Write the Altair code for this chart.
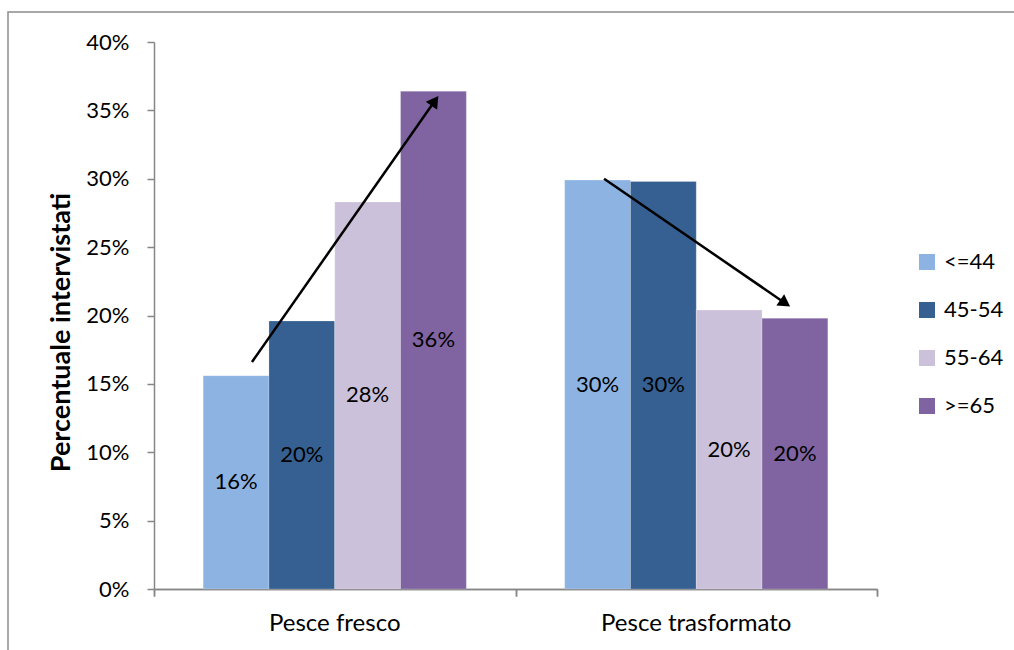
import altair as alt
import pandas as pd

# ---- data ----
cats = ["Pesce fresco", "Pesce trasformato"]
ages = ["<=44", "45-54", "55-64", ">=65"]
fresco = [0.156, 0.196, 0.283, 0.364]
trasformato = [0.299, 0.298, 0.204, 0.198]
colors = ["#8DB3E2", "#366092", "#CCC1DA", "#8064A2"]
y_ticks = [0, 0.05, 0.10, 0.15, 0.20, 0.25, 0.30, 0.35, 0.40]

# arrows (x in group units 0..2, y in share)
arrow_x0 = [0.271, 1.245]
arrow_y0 = [0.166, 0.300]
arrow_x1 = [0.777, 1.746]
arrow_y1 = [0.357, 0.209]
arrow_angle = [35, 124.6]

FONT = "Lato"
GRAY = "#868686"
YTITLE = "Percentuale intervistati"

rows = []
for c, vals in zip(cats, [fresco, trasformato]):
    for a, v in zip(ages, vals):
        rows.append({"cat": c, "age": a, "value": v})
df = pd.DataFrame(rows)

arrows = pd.DataFrame({"x0": arrow_x0, "y0": arrow_y0, "x1": arrow_x1,
                       "y1": arrow_y1, "ang": arrow_angle})

yscale = alt.Scale(domain=[0, 0.4], nice=False)
xscale = alt.Scale(paddingInner=0.272, paddingOuter=0.136)

x_enc = alt.X("cat:N", sort=cats, scale=xscale, title=None,
              axis=alt.Axis(ticks=False, domain=False, labelAngle=0, labelLimit=500,
                            labelFont=FONT, labelFontSize=24, labelColor="#000",
                            labelPadding=22, labelBaseline="top"))
xoff = alt.XOffset("age:N", sort=ages)

bars = alt.Chart(df).mark_bar(stroke="#ffffff", strokeOpacity=0.35, strokeWidth=0.6).encode(
    x=x_enc,
    xOffset=xoff,
    y=alt.Y("value:Q", scale=yscale, title=YTITLE,
            axis=alt.Axis(values=y_ticks, format=".0%", grid=False,
                          tickSize=7, tickColor=GRAY, tickWidth=1.5,
                          domainColor=GRAY, domainWidth=1.5,
                          labelFont=FONT, labelFontSize=22, labelColor="#000",
                          labelPadding=18,
                          titleFont=FONT, titleFontSize=27, titleFontWeight="bold",
                          titleColor="#000", titleAngle=270, titleX=-93, titleY=290,
                          titleAlign="center", titleBaseline="middle")),
    color=alt.Color("age:N", sort=ages,
                    scale=alt.Scale(domain=ages, range=colors),
                    legend=alt.Legend(title=None, orient="none", legendX=762, legendY=209,
                                      symbolType="square", symbolSize=256,
                                      symbolStrokeWidth=0,
                                      labelFont=FONT, labelFontSize=22, labelColor="#000",
                                      labelOffset=6, rowPadding=26)),
)

labels = alt.Chart(df).transform_calculate(mid="datum.value / 2").mark_text(
    font=FONT, fontSize=22, color="#000", baseline="middle"
).encode(
    x=alt.X("cat:N", sort=cats, scale=xscale, title=None),
    xOffset=xoff,
    y=alt.Y("mid:Q", scale=yscale, title=YTITLE),
    text=alt.Text("value:Q", format=".0%"),
)

band = alt.layer(bars, labels)

qx = alt.Scale(domain=[0, 2], nice=False, zero=False)
qaxis = alt.Axis(orient="bottom", values=[0, 1, 2], labels=False, grid=False,
                 tickSize=7, tickColor=GRAY, tickWidth=1.5,
                 domainColor=GRAY, domainWidth=1.5, title=None)
arrow_lines = alt.Chart(arrows).mark_rule(color="#000", strokeWidth=2.5).encode(
    x=alt.X("x0:Q", scale=qx, title=None, axis=qaxis),
    x2="x1:Q",
    y=alt.Y("y0:Q", scale=yscale, title=YTITLE),
    y2="y1:Q",
)
arrow_heads = alt.Chart(arrows).mark_point(
    shape="triangle-up", filled=True, color="#000", size=190, opacity=1
).encode(
    x=alt.X("x1:Q", scale=qx, title=None, axis=qaxis),
    y=alt.Y("y1:Q", scale=yscale, title=YTITLE),
    angle=alt.Angle("ang:Q", scale=None),
)

border = alt.Chart(pd.DataFrame({"k": [0]})).mark_rect(
    fillOpacity=0, stroke="#8c8c8c", strokeWidth=1.5
).encode(
    x=alt.value(-146), x2=alt.value(900),
    y=alt.value(-30), y2=alt.value(700),
)

chart = alt.layer(border, band, arrow_lines, arrow_heads).resolve_scale(
    x="independent"
).properties(
    width=723, height=547,
    autosize=alt.AutoSizeParams(type="none"),
    padding={"left": 154, "top": 42, "right": 137, "bottom": 61},
    background="#ffffff",
).configure_view(stroke=None)

chart.save("out.html", embed_options={"renderer": "svg", "actions": False})
